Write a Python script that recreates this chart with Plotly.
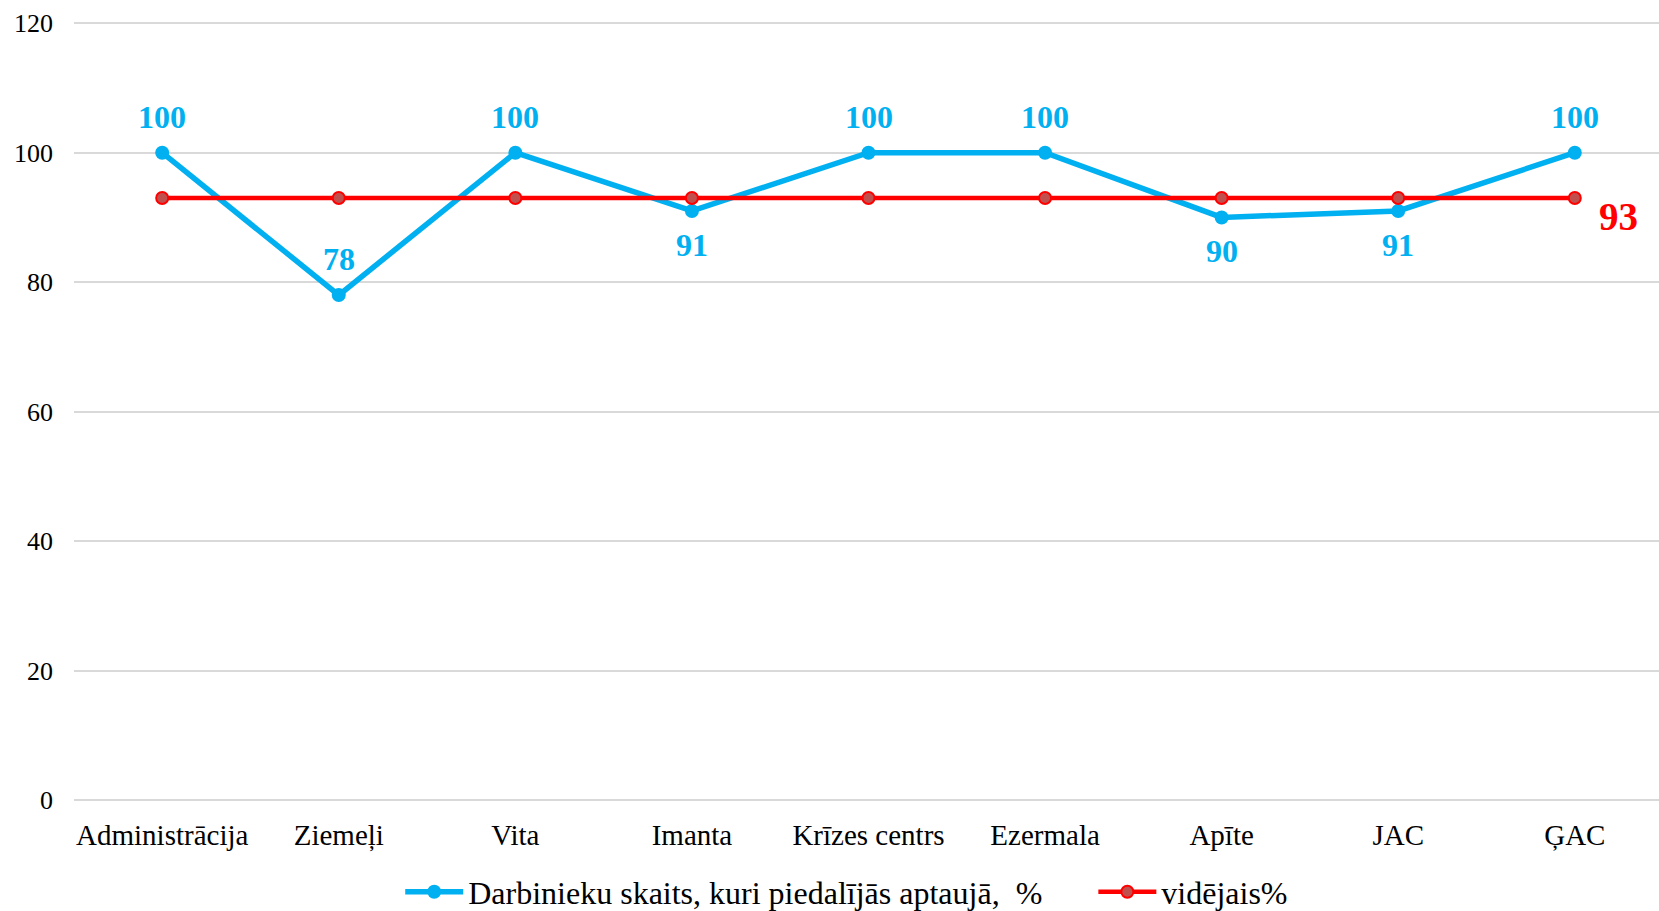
import plotly.graph_objects as go

categories = ["Administrācija", "Ziemeļi", "Vita", "Imanta", "Krīzes centrs",
              "Ezermala", "Apīte", "JAC", "ĢAC"]
participation = [100, 78, 100, 91, 100, 100, 90, 91, 100]
average = [93, 93, 93, 93, 93, 93, 93, 93, 93]
label_above = [True, True, True, False, True, True, False, False, True]

name_part = "Darbinieku skaits, kuri piedalījās aptaujā,  %"
name_avg = "vidējais%"

BLUE = "#00B0F0"
RED = "#FF0000"
FONT = "Liberation Serif"

fig = go.Figure()
fig.add_trace(go.Scatter(
    x=categories, y=participation, name=name_part, mode="lines+markers",
    line=dict(color=BLUE, width=5.5), marker=dict(color=BLUE, size=14),
    legend="legend",
))
fig.add_trace(go.Scatter(
    x=categories, y=average, name=name_avg, mode="lines+markers",
    line=dict(color=RED, width=4.5),
    marker=dict(color="#C0504D", size=12, line=dict(color=RED, width=2)),
    legend="legend2",
))

annotations = []
for c, v, up in zip(categories, participation, label_above):
    annotations.append(dict(
        x=c, y=v, text=f"<b>{v}</b>", showarrow=False,
        yshift=36 if up else -34,
        font=dict(family=FONT, size=32, color=BLUE),
    ))
annotations.append(dict(
    x=categories[-1], y=average[-1], text=f"<b>{average[-1]}</b>", showarrow=False,
    xshift=44, yshift=-18,
    font=dict(family=FONT, size=39, color=RED),
))

legend_common = dict(orientation="h", xanchor="left", y=-0.1179, yanchor="middle",
                     font=dict(family=FONT, size=32, color="black"),
                     itemwidth=58, bgcolor="rgba(0,0,0,0)")

fig.update_layout(
    width=1663, height=911,
    margin=dict(l=74, r=0, t=19.5, b=111, autoexpand=False),
    paper_bgcolor="white", plot_bgcolor="white",
    font=dict(family=FONT, size=24, color="black"),
    annotations=annotations,
    showlegend=True,
    legend=dict(x=0.2053, **legend_common),
    legend2=dict(x=0.6415, **legend_common),
    xaxis=dict(type="category", showgrid=False, showline=False, ticks="",
               automargin=False,
               tickfont=dict(family=FONT, size=29, color="black"),
               ticklabelstandoff=15),
    yaxis=dict(range=[0, 120.5], tickvals=[0, 20, 40, 60, 80, 100, 120],
               showgrid=True, gridcolor="#D9D9D9",
               gridwidth=1.5, zeroline=True, zerolinecolor="#D9D9D9",
               zerolinewidth=1.5, showline=False, ticks="", automargin=False,
               tickfont=dict(family=FONT, size=26, color="black"),
               ticklabelstandoff=20),
)

fig.write_html(
    "out.html",
    config={"displayModeBar": False},
    post_script="document.body.style.margin='0';document.body.style.overflow='hidden';",
)
